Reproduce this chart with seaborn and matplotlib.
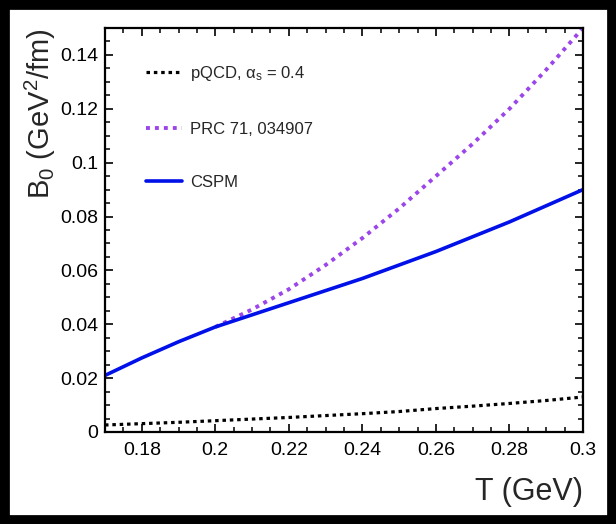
import numpy as np
import pandas as pd
import matplotlib
matplotlib.use("Agg")
import matplotlib.pyplot as plt
from matplotlib.ticker import MultipleLocator, FormatStrFormatter
from matplotlib.patches import Rectangle
import seaborn as sns

# ---- data ----
T_cspm = [0.17, 0.18, 0.19, 0.20, 0.21, 0.22, 0.23, 0.24, 0.25, 0.26, 0.27, 0.28, 0.29, 0.30]
B_cspm = [0.021, 0.0275, 0.0335, 0.0390, 0.0435, 0.0480, 0.0525, 0.0570, 0.0620, 0.0670, 0.0725, 0.0780, 0.0840, 0.0900]

T_prc = [0.20, 0.21, 0.22, 0.23, 0.24, 0.25, 0.26, 0.27, 0.28, 0.29, 0.30]
B_prc = [0.0390, 0.0455, 0.0530, 0.0620, 0.0720, 0.0830, 0.0950, 0.1070, 0.1200, 0.1345, 0.1500]

T_pqcd = [0.17, 0.18, 0.19, 0.20, 0.21, 0.22, 0.23, 0.24, 0.25, 0.26, 0.27, 0.28, 0.29, 0.30]
B_pqcd = [0.0026, 0.0031, 0.0036, 0.0042, 0.0048, 0.0054, 0.0061, 0.0068, 0.0076, 0.0087, 0.0096, 0.0106, 0.0117, 0.0130]

labels = ["pQCD, α$_\\mathregular{s}$ = 0.4", "PRC 71, 034907", "CSPM"]
colors = ["black", "#9b45ea", "#0010e8"]

sns.set_style("ticks")
plt.rcParams["font.family"] = ["Liberation Sans", "DejaVu Sans"]
plt.rcParams["mathtext.fontset"] = "custom"
plt.rcParams["mathtext.rm"] = "Liberation Sans"
plt.rcParams["mathtext.it"] = "Liberation Sans:italic"

fig = plt.figure(figsize=(6.16, 5.24), dpi=100)
fig.patch.set_facecolor("white")
ax = fig.add_axes([105 / 616, 1 - 432 / 524, (583 - 105) / 616, (432 - 28) / 524])

df_pqcd = pd.DataFrame({"T": T_pqcd, "B": B_pqcd})
df_prc = pd.DataFrame({"T": T_prc, "B": B_prc})
df_cspm = pd.DataFrame({"T": T_cspm, "B": B_cspm})

sns.lineplot(data=df_pqcd, x="T", y="B", ax=ax, color=colors[0], lw=2.3, label=labels[0])
ax.lines[-1].set_linestyle((0, (1.1, 1.2)))
sns.lineplot(data=df_prc, x="T", y="B", ax=ax, color=colors[1], lw=2.8, label=labels[1])
ax.lines[-1].set_linestyle((0, (1.0, 1.3)))
sns.lineplot(data=df_cspm, x="T", y="B", ax=ax, color=colors[2], lw=2.6, label=labels[2])

ax.set_xlim(0.17, 0.30)
ax.set_ylim(0, 0.15)

ax.xaxis.set_major_locator(MultipleLocator(0.02))
ax.xaxis.set_minor_locator(MultipleLocator(0.005))
ax.yaxis.set_major_locator(MultipleLocator(0.02))
ax.yaxis.set_minor_locator(MultipleLocator(0.005))
ax.xaxis.set_major_formatter(FormatStrFormatter("%g"))
ax.yaxis.set_major_formatter(FormatStrFormatter("%g"))
ax.set_xticks([0.18, 0.20, 0.22, 0.24, 0.26, 0.28, 0.30])

for s in ax.spines.values():
    s.set_visible(True)
    s.set_linewidth(1.6)
    s.set_color("black")

ax.tick_params(which="both", direction="in", top=True, right=True, colors="black",
               labelsize=14)
ax.tick_params(which="major", length=6, width=1.2)
ax.tick_params(which="minor", length=3.5, width=1.1)
ax.tick_params(axis="x", which="major", pad=7)
ax.tick_params(axis="y", which="major", pad=5)

ax.set_xlabel("T (GeV)", fontsize=22, loc="right")
ax.set_ylabel("B$_\\mathregular{0}$ (GeV$^\\mathregular{2}$/fm)", fontsize=21, loc="top")
ax.xaxis.set_label_coords(1.0, -0.112)
ax.yaxis.set_label_coords(-0.098, 1.0)

leg = ax.legend(loc="upper left", bbox_to_anchor=(0.085, 0.911), frameon=False,
                fontsize=12, handlelength=2.2, handletextpad=0.45, labelspacing=2.32,
                borderpad=0, borderaxespad=0)

fig.patches.append(Rectangle((0, 0), 1, 1, transform=fig.transFigure, fill=False,
                             edgecolor="black", linewidth=13.5, zorder=10))

fig.savefig("out.png", dpi=100, facecolor="white")
